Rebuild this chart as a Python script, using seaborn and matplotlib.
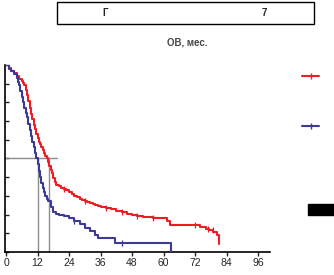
import numpy as np
import pandas as pd
import matplotlib
matplotlib.use("Agg")
import matplotlib.pyplot as plt
import seaborn as sns
from matplotlib.lines import Line2D
from matplotlib.patches import Rectangle

# Kaplan-Meier steps (months, survival fraction)
red_t = [0, 1, 2, 3, 4, 5, 6, 6.5, 7, 7.5, 8, 8.5, 9, 9.5, 10, 10.5, 11, 11.5,
         12, 12.5, 13, 13.5, 14, 14.5, 15, 15.5, 16, 16.5, 17, 17.5, 18, 18.5,
         19, 20, 21, 22, 23, 24, 25, 26, 27, 28, 29, 30, 31, 32, 33, 34, 35,
         36, 38, 40, 42, 44, 46, 48, 50, 52, 56, 61.5, 62.5, 74, 76, 77.5, 79,
         80.5, 81]
red_s = [1.0, 0.985, 0.97, 0.955, 0.94, 0.925, 0.915, 0.905, 0.89, 0.865, 0.84,
         0.805, 0.77, 0.74, 0.71, 0.68, 0.655, 0.63, 0.61, 0.59, 0.575, 0.56,
         0.545, 0.53, 0.515, 0.50, 0.48, 0.46, 0.44, 0.42, 0.395, 0.375, 0.36,
         0.35, 0.34, 0.335, 0.33, 0.32, 0.31, 0.30, 0.295, 0.285, 0.28, 0.272,
         0.265, 0.26, 0.255, 0.25, 0.245, 0.24, 0.235, 0.228, 0.22, 0.212,
         0.205, 0.20, 0.192, 0.185, 0.183, 0.165, 0.145, 0.135, 0.125, 0.115,
         0.105, 0.09, 0.04]
blue_t = [0, 1, 2, 3, 4, 4.5, 5, 5.5, 6, 6.5, 7, 7.5, 8, 8.5, 9, 9.5, 10, 10.5,
          11, 11.5, 12, 12.5, 13, 13.5, 14, 14.5, 15, 15.5, 16, 17, 18, 19, 20,
          22, 24, 26, 28, 30, 32, 34, 35, 41.5, 62.8]
blue_s = [1.0, 0.98, 0.965, 0.95, 0.93, 0.91, 0.89, 0.86, 0.83, 0.80, 0.77,
          0.745, 0.72, 0.685, 0.65, 0.62, 0.59, 0.56, 0.53, 0.50, 0.47, 0.435,
          0.40, 0.37, 0.34, 0.32, 0.30, 0.285, 0.27, 0.24, 0.215, 0.205, 0.195,
          0.19, 0.18, 0.165, 0.15, 0.13, 0.11, 0.09, 0.075, 0.048, 0.0]
red_cens_t = [22, 30, 38, 44, 50, 56, 72, 77, 79]
red_cens_s = [0.335, 0.272, 0.235, 0.212, 0.192, 0.183, 0.145, 0.125, 0.115]
blue_cens_t = [26, 44]
blue_cens_s = [0.165, 0.048]
med_red, med_blue = 16.4, 12.0
xticks = [0, 12, 24, 36, 48, 60, 72, 84, 96]

RED = "#ee1c24"
BLUE = "#3b3a96"

df = pd.concat([
    pd.DataFrame({"month": red_t, "surv": red_s, "group": "A"}),
    pd.DataFrame({"month": blue_t, "surv": blue_s, "group": "B"}),
])

sns.set_style("white")
plt.rcParams["font.family"] = ["Liberation Sans", "DejaVu Sans"]

fig = plt.figure(figsize=(3.34, 2.75), dpi=100)
ax = fig.add_axes([0.015, 0.084, 0.793, 0.68])

# median guide lines
ax.plot([-0.4, 19.5], [0.5, 0.5], color="#8c8c8c", lw=1.0, zorder=1)
ax.plot([med_blue, med_blue], [0, 0.5], color="#8c8c8c", lw=1.0, zorder=1)
ax.plot([med_red, med_red], [0, 0.5], color="#8c8c8c", lw=1.0, zorder=1)

sns.lineplot(data=df, x="month", y="surv", hue="group", palette=[RED, BLUE],
             drawstyle="steps-post", estimator=None, sort=False, lw=1.5,
             legend=False, ax=ax, zorder=3)
ax.scatter(red_cens_t, red_cens_s, marker="|", s=14, color=RED, lw=0.9, zorder=4)
ax.scatter(blue_cens_t, blue_cens_s, marker="|", s=14, color=BLUE, lw=0.9, zorder=4)

ax.set_xlim(-0.4, 100.5)
ax.set_ylim(0, 1.0)
ax.set_xticks(xticks)
ax.set_xticklabels([str(v) for v in xticks], fontsize=7.5)
ax.set_yticks(np.arange(0, 1.01, 0.1))
ax.set_yticklabels([])
ax.tick_params(axis="x", direction="out", length=3, width=1, pad=1.5, bottom=True)
ax.tick_params(axis="y", direction="in", length=3, width=1, left=True)
ax.set_xlabel("")
ax.set_ylabel("")
for side in ["top", "right"]:
    ax.spines[side].set_visible(False)
for side in ["left", "bottom"]:
    ax.spines[side].set_color("black")
    ax.spines[side].set_linewidth(1.2)

handles = [Line2D([], [], color=RED, lw=1.5, marker="|", ms=4),
           Line2D([], [], color=BLUE, lw=1.5, marker="|", ms=4)]
fig.legend(handles, ["", ""], loc="upper left", bbox_to_anchor=(0.905, 0.74),
           frameon=False, handlelength=1.7, labelspacing=4.1, fontsize=7,
           borderaxespad=0, borderpad=0)

# title box and subtitle
fig.patches.append(Rectangle((0.171, 0.913), 0.77, 0.08, transform=fig.transFigure,
                             fill=False, edgecolor="black", lw=1.0))
fig.text(0.315, 0.952, "Г", fontsize=7, fontweight="bold", ha="center", va="center")
fig.text(0.79, 0.952, "7", fontsize=7, fontweight="bold", ha="center", va="center")
fig.text(0.56, 0.845, "ОВ, мес.", fontsize=7, fontweight="bold", color="#444444",
         ha="center", va="center")
fig.patches.append(Rectangle((0.922, 0.218), 0.078, 0.04, transform=fig.transFigure,
                             color="black"))

fig.savefig("out.png", dpi=100)
